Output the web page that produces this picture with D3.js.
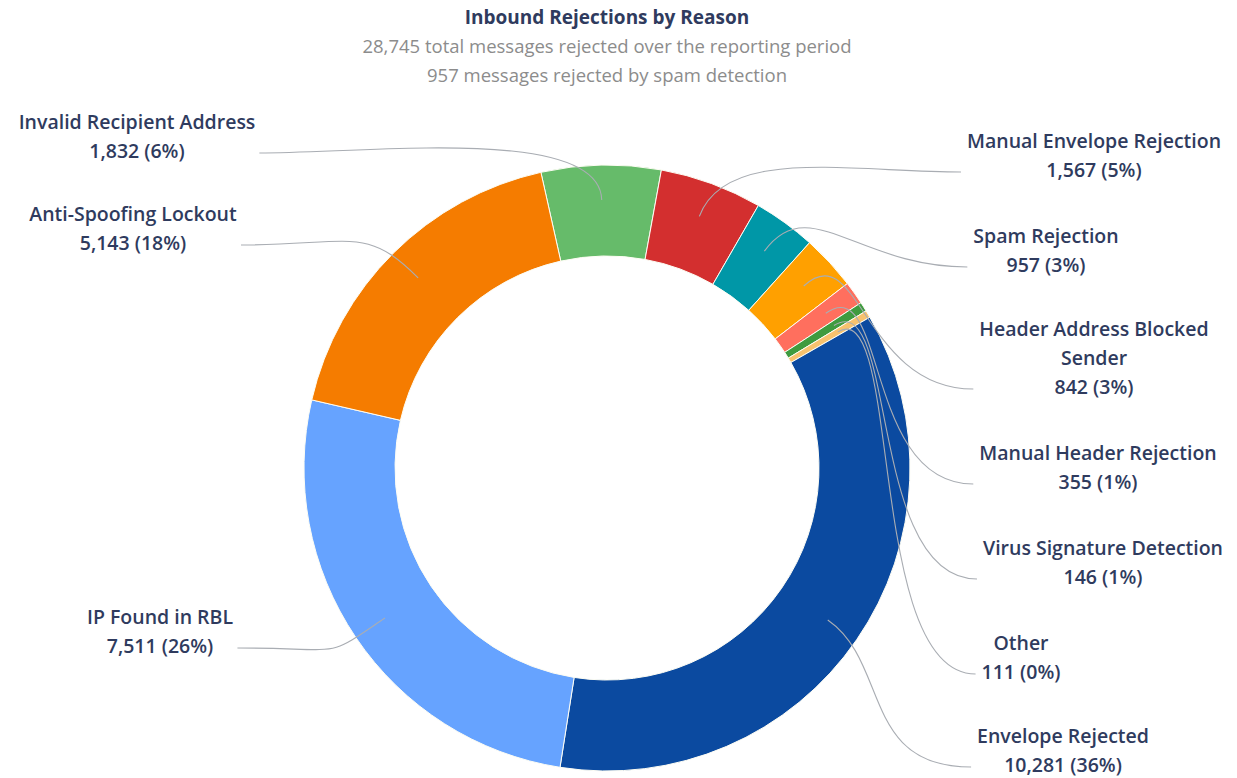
<!DOCTYPE html>
<html>
<head>
<meta charset="utf-8">
<script src="https://cdn.jsdelivr.net/npm/d3@7"></script>
<style>
  body { margin: 0; background: #fff; }
  svg { display: block; font-family: "Open Sans", "Noto Sans", sans-serif; }
  .title { font-size: 19px; font-weight: 700; fill: #2f3b5e; }
  .subtitle { font-size: 18.5px; fill: #8c8c8c; }
  .lbl { font-size: 19.5px; font-weight: 600; fill: #2f3b5e; }
  .conn { fill: none; stroke: #a9adb3; stroke-width: 1.1; }
</style>
</head>
<body>
<svg id="chart" width="1237" height="778"></svg>
<script>
/*    ========    DATA    =========    */

var reasons = [
    "Invalid Recipient Address",
    "Manual Envelope Rejection",
    "Spam Rejection",
    "Header Address Blocked Sender",
    "Manual Header Rejection",
    "Virus Signature Detection",
    "Other",
    "Envelope Rejected",
    "IP Found in RBL",
    "Anti-Spoofing Lockout"
];
var counts = [1832, 1567, 957, 842, 355, 146, 111, 10281, 7511, 5143];
var colors = ["#66bb6a", "#d32f2f", "#0097a7", "#ffa000", "#ff6f5e",
              "#3f9b3f", "#f7c26e", "#0b4aa0", "#66a3ff", "#f57c00"];

var titleText = "Inbound Rejections by Reason";
var subtitleLines = [
    "28,745 total messages rejected over the reporting period",
    "957 messages rejected by spam detection"
];

/*    ========    LAYOUT    =========    */

var svg = d3.select("#chart");
var cx = 607, cy = 468;
var rOuter = 303, rInner = 212;
var startDeg = -12.6;
var lineH = 29;

// label centre x, first baseline y, side
var labelPos = [
    [137, 129, "L"],
    [1094, 148, "R"],
    [1046, 243, "R"],
    [1094, 336, "R"],
    [1098, 460, "R"],
    [1103, 555, "R"],
    [1021, 650, "R"],
    [1063, 743, "R"],
    [160, 624, "L"],
    [133, 221, "L"]
];

/*    ========    FUNCTIONS    =========    */

var fmt = d3.format(",");
var total = d3.sum(counts);

var data = reasons.map(function(r, i) {
    return { name: r, value: counts[i], color: colors[i], pos: labelPos[i] };
});

var pie = d3.pie()
    .sort(null)
    .value(function(d) { return d.value; })
    .startAngle(startDeg * Math.PI / 180)
    .endAngle(startDeg * Math.PI / 180 + 2 * Math.PI);

var arc = d3.arc().innerRadius(rInner).outerRadius(rOuter);

var arcs = pie(data);

function polar(r, a) {
    return [cx + r * Math.sin(a), cy - r * Math.cos(a)];
}

// title
svg.append("text").attr("class", "title")
    .attr("x", cx).attr("y", 24).attr("text-anchor", "middle")
    .text(titleText);

svg.selectAll("text.subtitle")
    .data(subtitleLines).enter()
    .append("text").attr("class", "subtitle")
    .attr("x", cx)
    .attr("y", function(d, i) { return 53 + i * 29; })
    .attr("text-anchor", "middle")
    .text(function(d) { return d; });

// slices
var g = svg.append("g").attr("transform", "translate(" + cx + "," + cy + ")");
g.selectAll("path.slice")
    .data(arcs).enter()
    .append("path")
    .attr("class", "slice")
    .attr("d", arc)
    .attr("fill", function(d) { return d.data.color; })
    .attr("stroke", "#fdfdf4")
    .attr("stroke-width", 1);

// labels (word wrapped)
var connG = svg.append("g");
var lblG = svg.append("g");

arcs.forEach(function(a) {
    var d = a.data;
    var t = lblG.append("text").attr("class", "lbl")
        .attr("text-anchor", "middle");
    var words = d.name.split(" ");
    var lines = [], cur = [];
    words.forEach(function(w) {
        cur.push(w);
        t.text(cur.join(" "));
        if (t.node().getComputedTextLength() > 275 && cur.length > 1) {
            cur.pop();
            lines.push(cur.join(" "));
            cur = [w];
        }
    });
    lines.push(cur.join(" "));
    var pct = Math.round(d.value / total * 100);
    lines.push(fmt(d.value) + " (" + pct + "%)");
    t.text(null);
    lines.forEach(function(l, i) {
        t.append("tspan")
            .attr("x", d.pos[0])
            .attr("y", d.pos[1] + i * lineH)
            .text(l);
    });
    var bb = t.node().getBBox();
    var endY = d.pos[1] + (lines.length - 1) * lineH - 5;
    var endX = d.pos[2] === "R" ? bb.x - 6 : bb.x + bb.width + 4;

    // connector
    var mid = (a.startAngle + a.endAngle) / 2;
    var p0 = polar(268, mid);
    var p1 = polar(rOuter + 40, mid);
    var dir = d.pos[2] === "R" ? -1 : 1;
    var p2 = [endX + dir * 110, endY];
    var path = d3.path();
    path.moveTo(p0[0], p0[1]);
    path.bezierCurveTo(p1[0], p1[1], p2[0], p2[1], endX, endY);
    connG.append("path").attr("class", "conn").attr("d", path.toString());
});

connG.raise();
</script>
</body>
</html>
